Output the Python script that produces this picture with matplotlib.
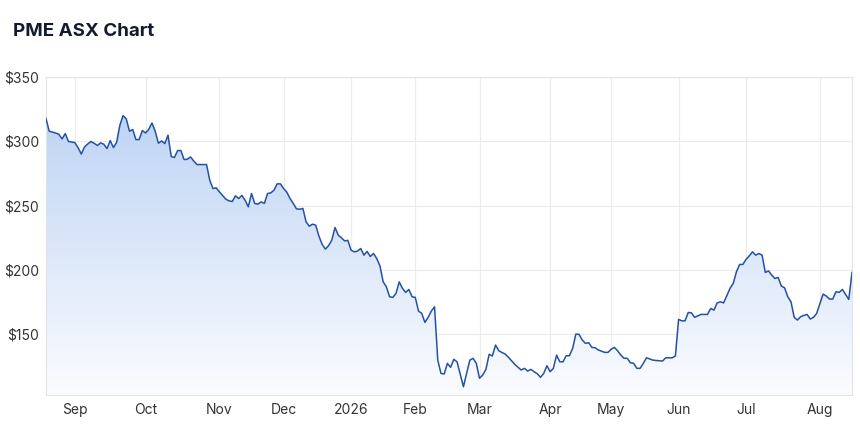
import matplotlib.pyplot as plt
import numpy as np
import pandas as pd
from matplotlib.colors import LinearSegmentedColormap

plt.rcParams['font.family'] = ['Inter', 'DejaVu Sans']

# trading calendar (ASX sessions)
start_date = "2025-08-19"
end_date = "2026-08-17"
holidays = ["2025-12-25", "2025-12-26", "2026-01-01", "2026-01-26",
            "2026-04-03", "2026-04-06", "2026-04-27", "2026-06-08"]

# daily close
prices = [
    317.7, 307.9, 307.2, 306.5, 305.5, 301.9, 306.0, 299.9, 299.5,  # Aug
    299.0, 295.0, 290.2, 295.7, 298.0, 299.9, 298.5, 296.8, 298.8, 297.8, 294.4,
    300.6, 295.2, 299.3, 312.5, 320.0, 317.4, 307.9, 309.2, 301.4, 301.4, 308.4,  # Sep
    306.5, 309.4, 314.3, 307.9, 298.6, 300.3, 298.3, 304.8, 288.2, 287.5, 292.9,
    292.9, 285.9, 286.1, 287.9, 284.8, 282.0, 282.0, 282.0, 282.0, 269.8, 263.4, 263.9,  # Oct
    260.8, 258.0, 255.1, 253.8, 253.3, 257.7, 255.6, 258.0, 254.3, 249.1,
    259.5, 251.8, 251.2, 253.0, 251.8, 259.5, 260.0, 262.1, 267.0, 267.0,  # Nov
    263.4, 260.5, 255.6, 251.8, 247.6, 247.3, 247.9, 237.5, 234.1, 235.7, 234.9,
    226.3, 220.0, 216.3, 219.0, 223.3, 233.1, 227.2, 225.1, 222.7, 223.1,  # Dec
    215.5, 214.2, 214.8, 216.8, 211.6, 214.5, 210.6, 212.9, 209.0, 203.3,
    190.9, 187.0, 179.3, 178.8, 181.9, 190.9, 185.8, 182.7, 185.0, 179.3,  # Jan
    178.8, 168.2, 166.4, 159.4, 163.3, 168.2, 171.5, 130.1, 119.8, 119.3,
    127.6, 124.5, 130.7, 128.8, 119.0, 109.4, 120.0, 130.1, 131.5, 127.6,  # Feb
    116.0, 118.5, 122.9, 134.6, 133.3, 141.8, 137.4, 136.0, 134.8, 132.3, 129.5,
    126.8, 124.5, 122.4, 123.7, 121.6, 122.9, 121.1, 119.5, 116.7, 119.8, 125.7,  # Mar
    121.1, 123.7, 134.0, 128.8, 128.8, 133.5, 133.5, 139.2, 150.3, 150.1,
    145.7, 143.1, 143.6, 140.0, 139.7, 138.0, 137.0, 136.1, 136.1,  # Apr
    138.5, 140.0, 137.4, 134.0, 131.5, 131.5, 128.0, 127.6, 123.7, 123.7, 127.5,
    131.9, 131.0, 130.1, 129.8, 129.6, 129.4, 131.9, 131.9, 131.9, 133.3,  # May
    161.7, 160.6, 160.6, 167.1, 166.8, 163.3, 164.5, 165.6, 165.6, 165.6, 170.2,
    168.9, 174.5, 175.4, 174.5, 180.0, 185.8, 189.6, 198.6, 204.4, 204.4,  # Jun
    208.3, 211.0, 214.2, 211.6, 212.9, 211.6, 198.2, 199.4, 196.1, 193.5, 194.3, 187.6,
    186.3, 179.3, 175.4, 163.3, 161.2, 163.8, 164.8, 165.6, 162.0, 163.3, 166.4,  # Jul
    174.0, 181.4, 179.8, 177.5, 177.5, 183.2, 182.7, 185.0, 181.1, 177.2, 198.2,  # Aug
]

month_labels = ["Sep", "Oct", "Nov", "Dec", "2026", "Feb", "Mar", "Apr", "May", "Jun", "Jul", "Aug"]
y_ticks = [150, 200, 250, 300, 350]
y_min, y_max = 103, 350

sessions = pd.bdate_range(start_date, end_date, freq="C", holidays=holidays)
x = np.arange(len(sessions))
prices = prices[:len(x)]

# first session of each month -> tick position
first = pd.Series(x, index=sessions).groupby(sessions.to_period("M")).min()
month_pos = first.values[1:]

fig = plt.figure(figsize=(8.6, 4.3), dpi=100)
ax = fig.add_axes([46 / 860, 1 - 395 / 430, 806 / 860, 318 / 430])

# gradient area under the line
poly = ax.fill_between(x, prices, y_min, color="none", lw=0)
cmap = LinearSegmentedColormap.from_list("area", ["#fbfcff", "#b6cff3"])
grad = np.linspace(0, 1, 256).reshape(-1, 1)
im = ax.imshow(grad, aspect="auto", cmap=cmap, origin="lower",
               extent=[x[0], x[-1], y_min, y_max], zorder=1)
im.set_clip_path(poly.get_paths()[0], transform=ax.transData)

ax.plot(x, prices, color="#2451a6", lw=1.1, zorder=3)

ax.set_xlim(x[0], x[-1])
ax.set_ylim(y_min, y_max)
ax.set_yticks(y_ticks)
ax.set_yticklabels([f"${v}" for v in y_ticks])
ax.set_xticks(month_pos)
ax.set_xticklabels(month_labels)
ax.grid(True, color="#ebebeb", lw=0.8, zorder=0)
ax.set_axisbelow(True)
ax.tick_params(length=0, labelsize=10, colors="#333333")
ax.tick_params(axis="y", pad=5)
ax.tick_params(axis="x", pad=6)
for s in ax.spines.values():
    s.set_color("#e3e3e3")
    s.set_linewidth(0.8)

fig.text(13 / 860, 1 - 32 / 430, "PME ASX Chart", fontsize=13.5, fontweight="bold",
         color="#141b2d", va="center", ha="left")

fig.savefig("out.png", dpi=100)
